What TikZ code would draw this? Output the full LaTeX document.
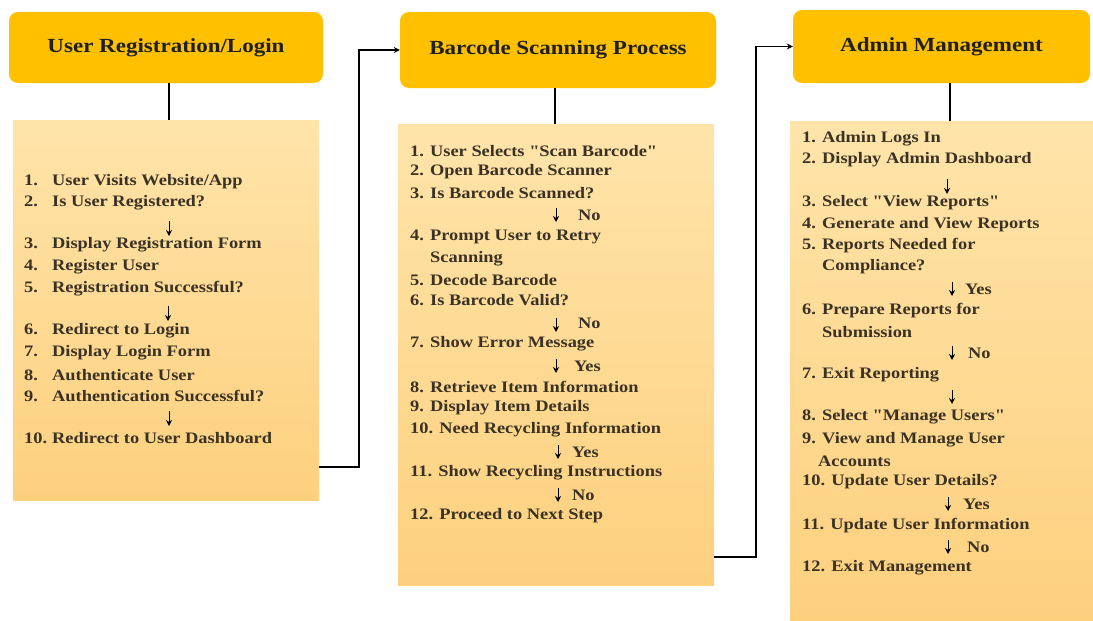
\documentclass[tikz,border=0pt]{standalone}
\usepackage{fontspec}
\newfontfamily\boxfont{Liberation Serif}[FakeStretch=1.15]
\usetikzlibrary{arrows.meta,calc}
\definecolor{hdr}{HTML}{FFC000}
\definecolor{bodytop}{HTML}{FFE4AA}
\definecolor{bodybot}{HTML}{FDD07E}
\definecolor{txt}{HTML}{3A3224}
\tikzset{
  hdrbox/.style={fill=hdr, rounded corners=9pt, draw=none, font=\boxfont\fontsize{20}{24}\selectfont\bfseries, text=black!88},
  bodybox/.style={top color=bodytop, bottom color=bodybot, draw=none},
  item/.style={anchor=west, inner sep=0pt, font=\boxfont\fontsize{16}{19}\selectfont\bfseries, text=txt},
  tag/.style={anchor=west, inner sep=0pt, font=\boxfont\fontsize{16}{19}\selectfont\bfseries, text=txt},
  stem/.style={line width=2.5pt},
  flow/.style={line width=1.2pt, -{Stealth[length=6pt,width=6pt]}},
  tick/.style={line width=0.9pt, -{Stealth[length=6pt,width=6pt]}},
}
\newcommand{\nm}[1]{\makebox[28pt][l]{#1}}
\begin{document}
\begin{tikzpicture}[x=1pt,y=-1pt]
\useasboundingbox (0,0) rectangle (1093,621);
% headers
\node[hdrbox, minimum width=314pt, minimum height=71pt] (h1) at (166,47.5) {User Registration/Login};
\node[hdrbox, minimum width=316pt, minimum height=76pt] (h2) at (558,50) {Barcode Scanning Process};
\node[hdrbox, minimum width=297pt, minimum height=73pt] (h3) at (941.5,46.5) {Admin Management};
% bodies
\node[bodybox, minimum width=306pt, minimum height=380pt] (b1) at (166,310) {};
\node[bodybox, minimum width=316pt, minimum height=461pt] (b2) at (556,354.5) {};
\node[bodybox, minimum width=303pt, minimum height=500pt] (b3) at (941.5,371) {};
% stems
\draw[stem] ($(h1.south)+(3,0)$) -- ($(b1.north)+(3,0)$);
\draw[stem] ($(h2.south)+(-3,0)$) -- ($(b2.north)+(-1,0)$);
\draw[stem] ($(h3.south)+(8.5,0)$) -- ($(b3.north)+(8.5,0)$);
% flows between columns
\coordinate (o1) at (319,467);
\coordinate (o2) at (714,557);
\draw[flow] (o1) -- (359,467) |- (h2.west);
\draw[flow] (o2) -- (756,557) |- (h3.west);
% column 1
\node[item] (u1) at (24,182) {\nm{1.}User Visits Website/App};
\node[item] (u2) at (24,203) {\nm{2.}Is User Registered?};
\draw[tick] (169,221) -- (169,236);
\node[item] (u3) at (24,245) {\nm{3.}Display Registration Form};
\node[item] (u4) at (24,267) {\nm{4.}Register User};
\node[item] (u5) at (24,289) {\nm{5.}Registration Successful?};
\draw[tick] (168,306) -- (168,321);
\node[item] (u6) at (24,331) {\nm{6.}Redirect to Login};
\node[item] (u7) at (24,353) {\nm{7.}Display Login Form};
\node[item] (u8) at (24,375) {\nm{8.}Authenticate User};
\node[item] (u9) at (24,396) {\nm{9.}Authentication Successful?};
\draw[tick] (169,411) -- (169,426);
\node[item] (u10) at (24,438) {\nm{10.}Redirect to User Dashboard};
% column 2
\node[item] (s1) at (410,151) {1. User Selects "Scan Barcode"};
\node[item] (s2) at (410,172) {2. Open Barcode Scanner};
\node[item] (s3) at (410,193) {3. Is Barcode Scanned?};
\draw[tick] (556,208) -- (556,222);
\node[tag] (s3n) at (578,215) {No};
\node[item] (s4) at (410,237) {4. Prompt User to Retry};
\node[item] (s4b) at (430,259) {Scanning};
\node[item] (s5) at (410,280) {5. Decode Barcode};
\node[item] (s6) at (410,300) {6. Is Barcode Valid?};
\draw[tick] (556,318) -- (556,332);
\node[tag] (s6n) at (578,323) {No};
\node[item] (s7) at (410,344) {7. Show Error Message};
\draw[tick] (556,359) -- (556,373);
\node[tag] (s7y) at (574,366) {Yes};
\node[item] (s8) at (410,387) {8. Retrieve Item Information};
\node[item] (s9) at (410,408) {9. Display Item Details};
\node[item] (s10) at (410,430) {10. Need Recycling Information};
\draw[tick] (558,445) -- (558,459);
\node[tag] (s10y) at (572,452) {Yes};
\node[item] (s11) at (410,473) {11. Show Recycling Instructions};
\draw[tick] (558,488) -- (558,502);
\node[tag] (s11n) at (572,495) {No};
\node[item] (s12) at (410,516) {12. Proceed to Next Step};
% column 3
\node[item] (a1) at (802,139) {1. Admin Logs In};
\node[item] (a2) at (802,160) {2. Display Admin Dashboard};
\draw[tick] (947,179) -- (947,194);
\node[item] (a3) at (802,203) {3. Select "View Reports"};
\node[item] (a4) at (802,225) {4. Generate and View Reports};
\node[item] (a5) at (802,246) {5. Reports Needed for};
\node[item] (a5b) at (822,267) {Compliance?};
\draw[tick] (952,282) -- (952,296);
\node[tag] (a5y) at (965,289) {Yes};
\node[item] (a6) at (802,311) {6. Prepare Reports for};
\node[item] (a6b) at (822,332) {Submission};
\draw[tick] (952,346) -- (952,360);
\node[tag] (a6n) at (968,353) {No};
\node[item] (a7) at (802,375) {7. Exit Reporting};
\draw[tick] (952,390) -- (952,404);
\node[item] (a8) at (802,417) {8. Select "Manage Users"};
\node[item] (a9) at (802,440) {9. View and Manage User};
\node[item] (a9b) at (818,461) {Accounts};
\node[item] (a10) at (802,482) {10. Update User Details?};
\draw[tick] (948,497) -- (948,511);
\node[tag] (a10y) at (963,504) {Yes};
\node[item] (a11) at (802,526) {11. Update User Information};
\draw[tick] (948,540) -- (948,554);
\node[tag] (a11n) at (967,547) {No};
\node[item] (a12) at (802,568) {12. Exit Management};
\end{tikzpicture}
\end{document}
